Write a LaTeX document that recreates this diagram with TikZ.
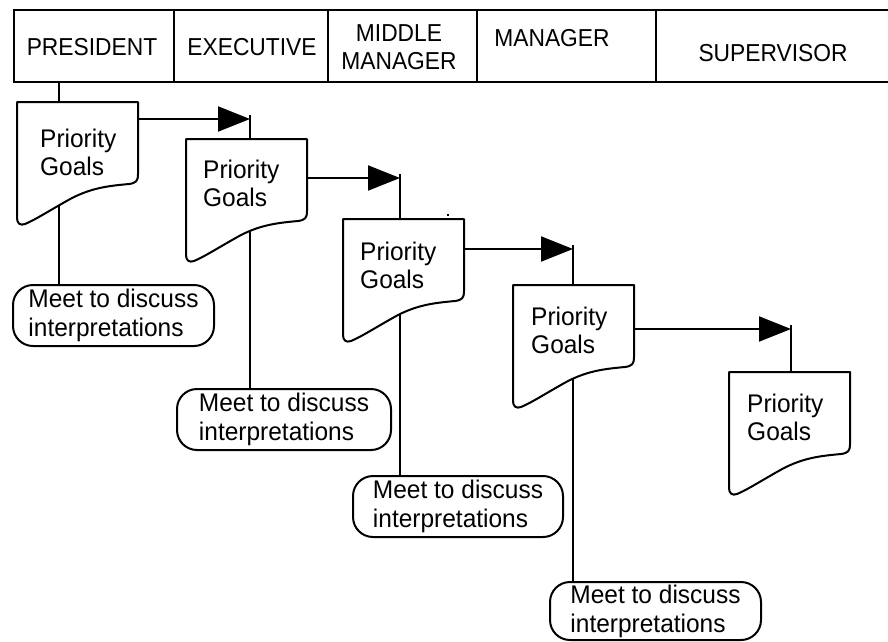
\documentclass[tikz,border=0pt]{standalone}
\usepackage{fontspec}
\setmainfont{Liberation Sans}
\newfontfamily\headfont[FakeStretch=0.93]{Liberation Sans}
\newfontfamily\bodyfont[FakeStretch=0.96]{Liberation Sans}
\usetikzlibrary{arrows.meta,calc}
\tikzset{
  conn/.style={line width=2pt},
  hcell/.style={draw, line width=2pt, anchor=north west, minimum height=72pt, inner sep=0pt},
  htext/.style={font=\headfont\fontsize{24.5}{28}\selectfont, inner sep=0pt, align=center},
  docbody/.style={anchor=north west, minimum width=121pt, minimum height=122pt, inner sep=0pt},
  doctext/.style={font=\bodyfont\fontsize{25.5}{28}\selectfont, align=left, inner sep=0pt, anchor=north west},
  meetbox/.style={draw, line width=2pt, rounded corners=20pt, fill=white, anchor=north west,
    inner sep=0pt, align=left, minimum height=61pt, font=\bodyfont\fontsize{25.5}{29}\selectfont},
  flow/.style={line width=2pt, -{Triangle[length=32pt,width=25pt]}},
  docline/.style={line width=2pt, fill=white, line join=round},
}
\newcommand\docoutline[1]{%
  \begin{scope}[shift={(#1.north west)}]
    \draw[docline] (0,0) -- (121,0) -- (121,72)
      .. controls (121,79) and (119,81) .. (112,82)
      .. controls (90,84) and (75,86) .. (55,96)
      .. controls (35,107) and (18,118) .. (8,122)
      .. controls (3,124) and (0,121) .. (0,116) -- cycle;
  \end{scope}}
\begin{document}
\begin{tikzpicture}[x=1pt,y=-1pt]
\useasboundingbox (0,0) rectangle (888,641);
% header
\node[hcell, minimum width=160pt] (h1) at (13,9) {};
\node[hcell, minimum width=154pt] (h2) at (173,9) {};
\node[hcell, minimum width=149pt] (h3) at (327,9) {};
\node[hcell, minimum width=179pt] (h4) at (476,9) {};
\node[hcell, minimum width=240pt] (h5) at (655,9) {};
\node[htext] (t1) at (92,47) {PRESIDENT};
\node[htext] (t2) at (252,47) {EXECUTIVE};
\node[htext] (t3) at (399,47) {MIDDLE\\MANAGER};
\node[htext] (t4) at (552,38) {MANAGER};
\node[htext] (t5) at (773,53) {SUPERVISOR};
% document bodies (outlines drawn later)
\node[docbody] (d1) at (17,102) {};
\node[docbody] (d2) at (186,139) {};
\node[docbody] (d3) at (343,219) {};
\node[docbody] (d4) at (513,285) {};
\node[docbody] (d5) at (729,372) {};
% meeting boxes
\node[meetbox, minimum width=201pt] (m1) at (12,284) {Meet to discuss\\interpretations};
\node[meetbox, minimum width=214pt] (m2) at (176,388) {Meet to discuss\\interpretations};
\node[meetbox, minimum width=210pt] (m3) at (352,475) {Meet to discuss\\interpretations};
\node[meetbox, minimum width=211pt, minimum height=58pt] (m4) at (549,581) {Meet to discuss\\interpretations};
% connector coordinates
\coordinate (v1) at (59,0);
\coordinate (a1) at (250,119);
\coordinate (a2) at (400,178);
\coordinate (a3) at (573,249);
\coordinate (a4) at (791,329);
% vertical connectors
\draw[conn] (v1 |- h1.south) -- (v1 |- m1.north);
\draw[conn] ($(a1)+(0,-4)$) -- (a1 |- m2.north);
\draw[conn] ($(a2)+(0,-4)$) -- (a2 |- m3.north);
\draw[conn] ($(a3)+(0,-4)$) -- (a3 |- m4.north);
\draw[conn] ($(a4)+(0,-4)$) -- (a4 |- d5.north);
% arrows
\draw[flow] (d1.north east |- a1) -- (a1);
\draw[flow] (d2.north east |- a2) -- (a2);
\draw[flow] (d3.north east |- a3) -- (a3);
\draw[flow] (d4.north east |- a4) -- (a4);
% document outlines
\docoutline{d1}
\docoutline{d2}
\docoutline{d3}
\docoutline{d4}
\docoutline{d5}
% document texts
\node[doctext] (d1t) at (40,129) {Priority\\Goals};
\node[doctext] (d2t) at (203,160) {Priority\\Goals};
\node[doctext] (d3t) at (360,242) {Priority\\Goals};
\node[doctext] (d4t) at (531,307) {Priority\\Goals};
\node[doctext] (d5t) at (747,394) {Priority\\Goals};
% stray dot
\fill (447,214) rectangle (449,216);
\end{tikzpicture}
\end{document}
